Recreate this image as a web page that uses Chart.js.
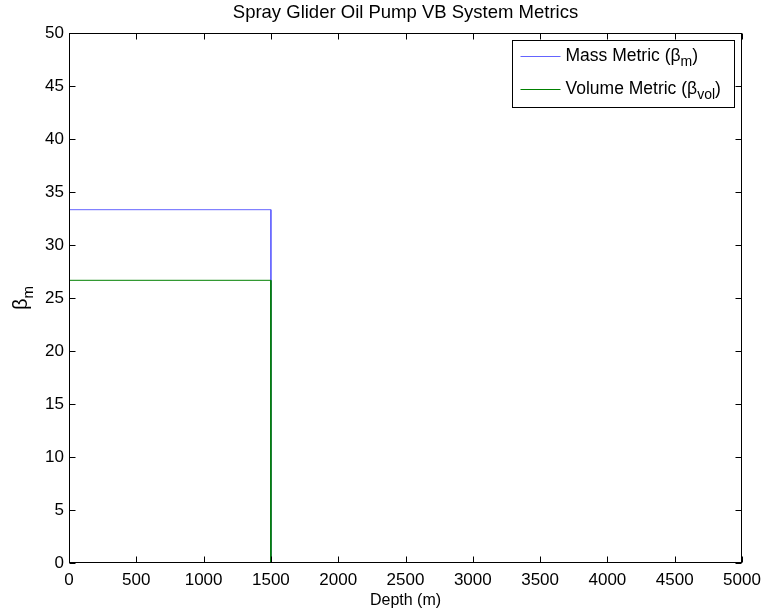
<!DOCTYPE html>
<html>
<head>
<meta charset="utf-8">
<title>Spray Glider Oil Pump VB System Metrics</title>
<script src="https://cdn.jsdelivr.net/npm/chart.js@4/dist/chart.umd.min.js"></script>
<style>
  body { margin: 0; background: #fff; }
  #wrap { width: 762px; height: 613px; }
</style>
</head>
<body>
<div id="wrap"><canvas id="metrics" width="762" height="613"></canvas></div>
<script>
// depth profile of the two VB metrics (step down to zero at max depth)
var depth = [0, 1500, 1500];
var massMetric = [33.33, 33.33, 0];
var volMetric = [26.67, 26.67, 0];

var xTicks = [0, 500, 1000, 1500, 2000, 2500, 3000, 3500, 4000, 4500, 5000];
var yTicks = [0, 5, 10, 15, 20, 25, 30, 35, 40, 45, 50];

// legend labels split as [text, subscript, closing]
var massLabel = ['Mass Metric (\u03b2', 'm', ')'];
var volLabel = ['Volume Metric (\u03b2', 'vol', ')'];

var FONT = '"Liberation Sans", Arial, Helvetica, sans-serif';

function points(xs, ys) {
  var out = [];
  for (var i = 0; i < xs.length; i++) out.push({x: xs[i], y: ys[i]});
  return out;
}

// text with a lowered, smaller subscript part
function drawSubText(ctx, parts, x, y, size, subSize) {
  ctx.font = size + 'px ' + FONT;
  ctx.fillText(parts[0], x, y);
  x += ctx.measureText(parts[0]).width;
  ctx.font = subSize + 'px ' + FONT;
  ctx.fillText(parts[1], x, y + 5);
  x += ctx.measureText(parts[1]).width;
  if (parts[2]) {
    ctx.font = size + 'px ' + FONT;
    ctx.fillText(parts[2], x, y);
  }
}

// title, box, inward ticks on all sides, y label and legend
var frame = {
  id: 'frame',
  afterDraw: function(chart) {
    var ctx = chart.ctx, a = chart.chartArea;
    var xs = chart.scales.x, ys = chart.scales.y;
    var L = Math.round(a.left) + 0.5, R = Math.round(a.right) - 0.5;
    var T = Math.round(a.top) + 0.5, B = Math.round(a.bottom) - 0.5;
    ctx.save();

    ctx.fillStyle = '#000';
    ctx.textAlign = 'center';
    ctx.textBaseline = 'middle';
    ctx.font = '18.5px ' + FONT;
    ctx.fillText('Spray Glider Oil Pump VB System Metrics', (a.left + a.right) / 2, 13);

    ctx.strokeStyle = '#000';
    ctx.lineWidth = 1;
    ctx.strokeRect(L, T, R - L, B - T);
    ctx.beginPath();
    xTicks.forEach(function(v) {
      var px = Math.round(xs.getPixelForValue(v)) + 0.5;
      ctx.moveTo(px, B); ctx.lineTo(px, B - 6);
      ctx.moveTo(px, T); ctx.lineTo(px, T + 6);
    });
    yTicks.forEach(function(v) {
      var py = Math.round(ys.getPixelForValue(v)) + 0.5;
      ctx.moveTo(L, py); ctx.lineTo(L + 6, py);
      ctx.moveTo(R, py); ctx.lineTo(R - 6, py);
    });
    ctx.stroke();

    // y axis title
    ctx.textBaseline = 'alphabetic';
    ctx.textAlign = 'left';
    ctx.translate(27, (a.top + a.bottom) / 2 + 12);
    ctx.rotate(-Math.PI / 2);
    ctx.font = '20px ' + FONT;
    ctx.fillText('\u03b2', 0, 0);
    var w = ctx.measureText('\u03b2').width;
    ctx.font = '15px ' + FONT;
    ctx.fillText('m', w, 6);
    ctx.setTransform(1, 0, 0, 1, 0, 0);

    // legend box
    var bx = 512.5, by = 40.5, bw = 222, bh = 67;
    ctx.fillStyle = '#fff';
    ctx.fillRect(bx, by, bw, bh);
    ctx.strokeRect(bx, by, bw, bh);
    var rows = [massLabel, volLabel];
    chart.data.datasets.forEach(function(ds, i) {
      var ly = by + 16 + i * 33;
      ctx.strokeStyle = ds.borderColor;
      ctx.beginPath();
      ctx.moveTo(bx + 8, ly); ctx.lineTo(bx + 48, ly);
      ctx.stroke();
      ctx.fillStyle = '#000';
      drawSubText(ctx, rows[i], bx + 53, ly + 4.5, 17.5, 14);
    });
    ctx.restore();
  }
};

function plain(v) { return String(v); }

new Chart(document.getElementById('metrics'), {
  type: 'scatter',
  data: {
    datasets: [{
      label: massLabel.join(''),
      data: points(depth, massMetric),
      showLine: true,
      borderColor: '#6464ff',
      borderWidth: 1,
      pointRadius: 0,
      fill: false,
      order: 1
    }, {
      label: volLabel.join(''),
      data: points(depth, volMetric),
      showLine: true,
      borderColor: '#008000',
      borderWidth: 1,
      pointRadius: 0,
      fill: false,
      order: 0
    }]
  },
  options: {
    responsive: false,
    animation: false,
    layout: { padding: { top: 33, right: 20, left: 0, bottom: 0 } },
    plugins: {
      legend: { display: false },
      tooltip: { enabled: false },
      title: { display: false }
    },
    scales: {
      x: {
        type: 'linear',
        min: 0, max: 5000,
        afterFit: function(s) { s.height = 50; s.paddingRight = 0; s.paddingLeft = 0; },
        afterBuildTicks: function(s) { s.ticks = xTicks.map(function(v) { return {value: v}; }); },
        grid: { display: false, drawTicks: false },
        border: { display: false },
        ticks: { color: '#000', padding: 7, maxRotation: 0, callback: plain, font: { family: FONT, size: 17 } },
        title: {
          display: true, text: 'Depth (m)', color: '#000', padding: { top: 0, bottom: 3 },
          font: { family: FONT, size: 16 }
        }
      },
      y: {
        type: 'linear',
        min: 0, max: 50,
        afterFit: function(s) { s.width = 69; },
        afterBuildTicks: function(s) { s.ticks = yTicks.map(function(v) { return {value: v}; }); },
        grid: { display: false, drawTicks: false },
        border: { display: false },
        ticks: { color: '#000', padding: 5, callback: plain, font: { family: FONT, size: 17 } }
      }
    }
  },
  plugins: [frame]
});
</script>
</body>
</html>
